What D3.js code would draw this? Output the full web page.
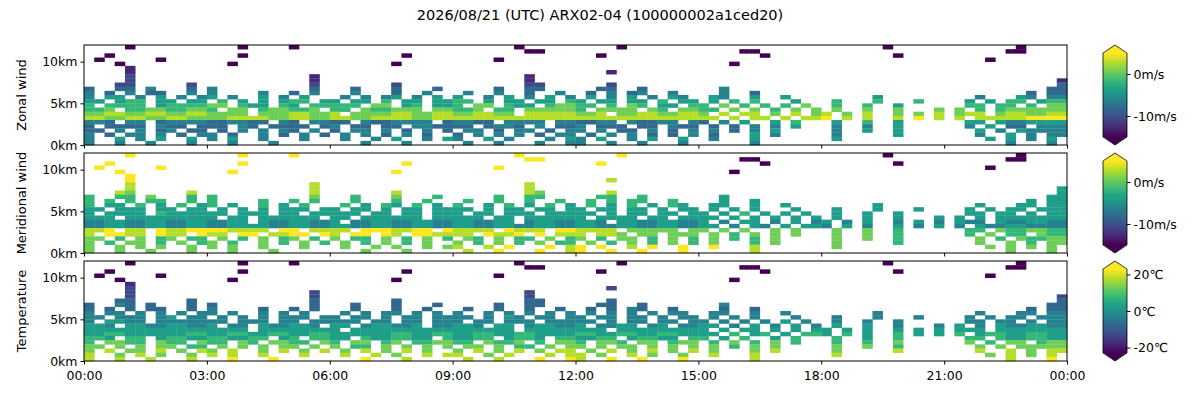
<!DOCTYPE html>
<html><head><meta charset="utf-8">
<script src="https://cdn.jsdelivr.net/npm/d3@7"></script>
<style>body{margin:0;background:#fff}text{font-family:"DejaVu Sans",sans-serif}</style>
</head><body><div id="chart"></div>
<script>
// shared observation mask: 15-min columns in 3-hour chunks, 0.5km rows, top row = 11.5-12km
var maskChunks = [
["....#.......","...#....#...","............","......#.....","....#.......","............","......#.....",".......#...."],
["............","............","............",".......##...","............","....##......","............","......##...."],
["..#.........","...#........",".......#....","............","..#.........","......#.....",".......#....","............"],
[".#.....#....","............","............","....#.......","............","............","............","....#......."],
["...#........","..#.........","......#.....","............","............","...#........","............","............"],
["....#.......","............","............","............","............","............","............","............"],
["....#.......","............","............","............","...#........","............","............","............"],
["....#.......","..........#.","............",".......#....","............","............","............","............"],
["....#.......","..........#.","............",".......#....","............","............","............","...........#"],
["...##.....#.","..........#.","......#.....",".......##...","...#........","............","............","...........#"],
["#..##.#...#.","#.........#.","..#...#...#.","....#..##...","..##..#.....","..#.........","............","..........##"],
["#.#.#.##..#.","#....#..#.#.","..#...#..#..",".#..#..#..#.",".#.#.##..#..","..#..#......","............","........#.##"],
["#.##.#.#.#.#","#.#..#.#.#..",".#.#.##.#.#.","#..#.#.#.#.#",".#.#.#.#.##.",".##..#..#...",".....#......","...#...##.##"],
["##.###.##.##",".#.#.#.###.#","#.##.#.##.##","##.#.##.##.#","#.##.##.#.##",".#.#.#...#..",".#...#...#..","..#.#.##.###"],
["#.####.#####","##.###.##.##","###.##.##.##","#.##.###.###","##.#.##.##.#","#.#.#.#.#.#.",".#..#..#....","..##.##.#.##"],
["###.########","#.##.######.","##.######.##","###.##.#####","#.####.##.##","##.#.#.#.#.#",".#..#..#...#",".#.#.#######"],
["############","####.#######","#.##########","######.#####","###.########","#.#.##.#.#.#","#.#.#..#.#.#",".###.#######"],
["############","############","############","############","############","##.#.##.#.##","#.#.#..#.#.#",".#.#########"],
["###.##.#####","######.##.##","##.#######.#","####.####.##","####.#####.#","#.#.#..#.#..",".#..#..#....","..##.#######"],
["#.####.###.#","##.##.####.#","#.##.##.####","##.####.#.##","#.###.##.###",".#.#.#.#.#..",".#..#..#....","..#.#.##.###"],
["##.#.#.##.##",".#.#.#.##.#.","#.##.#.#.#.#",".##.#.##.#.#","#.#.##.#.#.#",".#.#.#.#....",".#..#..#....","...#.#.#####"],
["#.#.##.#.#.#","#.#..#.#.#.#",".#.#.#.#.#..","#.#.#.#.#.##",".#.#.#.#.#.#",".#...#.#....",".#.....#....","...#..#.#.##"],
["#..#.#.#..#.","#.#..#...#..",".#..#.#..#.#","#..#.#...#.#","#.#..#.#..#.",".#...#......",".#..........","....#.#.#.#."],
["#..#..#...#.","..#...#.....","...#...#....",".#..#...#..#","#..#..#...#.",".....#......","............","......#...#."]
];
// values per 30-min column, digit 0-9 along each colour scale
var zonal = [
"000000000000000000000000000000000000000000000000",
"000000000000000000000000000000000000000000000000",
"000000000000000000000000000000000000000000000000",
"000000000000000000000000000000000000000000000000",
"000000000000000000000000000000000000000000000000",
"111111112111111111111111111111111111111111111111",
"111211111111111111111111111121111111111111111111",
"112111111111111111211111111111111111111111111111",
"122121111111112111111111111111111111111111111111",
"222232223222232222333222222222233222222222222333",
"333433434343334343443333434334343333444433433433",
"434344434434344343444344343444343343444444443433",
"454544545455444545545454545454545454545554544544",
"556555655565556555655556555565566555656565555656",
"666566765656667565676567667656676667666566666667",
"676767676767676777676777677767677677767767766777",
"787878777787877878787888787878788787878778787878",
"878787788787878878888888888888888888988898888899",
"434344343434343443434444344344345565556565655455",
"333433343333433343334343433343334455454545445344",
"344343344434344343443434443434434545445545454544",
"434434434343443434344434344334345445454545444544",
"454545454545454545454545454545445555555555555545",
"444444444444444444444444444444444455545454545454"
];
var meridional = [
"999999999999999999999999999999900000000000000000",
"999999999999999999999999999999900000000000000000",
"999999999999999999999999999999900000000000000000",
"999999999999999999999999999999900000000000000000",
"999999999999999999999999999999900000000000000000",
"899898989898988898989899898888766655555555555555",
"899898888888888898888888888777666655555555555555",
"898888888888888888888888888777666655555555555555",
"888888888888888888888888888777666655555555555555",
"787878787878787878787878787766666555555555555555",
"666766676667666766676666666666555555555555555555",
"666666666666666666666666666666555555555555555555",
"656565656565656565656565656565555555555555555555",
"555555555555555555555555555555555555555555555555",
"555655555555555555555555555555556555555555555555",
"555555555555555555555555555555555555555555555555",
"454545455454545454545454545454545454545454545454",
"454545455454545454545454545454545455454545454544",
"898989988998899899889889887777777777767676767676",
"898989899899899898898998887777767777767676767676",
"767676767676767676767676767676766766767676676767",
"767676767676767676767676767676766766767676676767",
"777777777777777777889898998989998888777777777777",
"777777777777777777889898998989998888777777777777"
];
var temperature = [
"000000000000000000000000000000000000000000000000",
"000000000000000000000000000000000000000000000000",
"000000000000000000000000000000000000000000000000",
"000000000000000000000000000000000000000000000000",
"000000000000000000000000000000000000000000000000",
"111111111111111111111111111111111111111111111111",
"222222222222222222222222222222222222222222222222",
"222322222222222222222222222232222222222222222222",
"222222222222222222222222222222222222222222222222",
"333333333343333333333333334333333334333333333333",
"343333333333333343333333333333343333333333333333",
"333333433333333333333333334333333334333333433333",
"444444444444444444444444444444444444444444444444",
"444454444444444444445444444444444444444444444444",
"454444444444444444444444444444444454444444444444",
"545454545454545454545454545454545454545454545454",
"555555555555555555555555555555555555555555555555",
"565556565656555656565655656565565656565655656565",
"656565656566565656565656565656656565665656566565",
"676767676767676767676767676767676767676767676767",
"777776777777767777777677777777767777777677777777",
"787878787878787878787878787878787878787878787878",
"878787888787878788878788878787888787878787887878",
"889898998988899889898999899989998988898988898889"
];
var hourTicks = [0, 3, 6, 9, 12, 15, 18, 21, 24];
var kmTicks = [0, 5, 10];

var mask = maskChunks.map(function(r) { return r.join(""); });

var panels = [
  {label: "Zonal wind", grid: zonal, domain: [-15, 5], ticks: [0, -10], unit: "m/s"},
  {label: "Meridional wind", grid: meridional, domain: [-15, 5], ticks: [0, -10], unit: "m/s"},
  {label: "Temperature", grid: temperature, domain: [-23, 23], ticks: [20, 0, -20], unit: "\u2103"}
];

var svg = d3.select("#chart").append("svg").attr("width", 1200).attr("height", 400);
svg.append("text").attr("x", 600).attr("y", 20).attr("text-anchor", "middle")
  .attr("font-size", 14.5).text("2026/08/21 (UTC) ARX02-04 (100000002a1ced20)");

var defs = svg.append("defs");
var x = d3.scaleLinear().domain([0, 24]).range([84, 1067]);
var tops = [45, 153, 261], ph = 100;

panels.forEach(function(p, pi) {
  var top = tops[pi];
  var y = d3.scaleLinear().domain([0, 12]).range([top + ph, top]);
  var col = d3.scaleSequential(d3.interpolateViridis).domain([0, 9]);
  var cells = [];
  mask.forEach(function(row, ri) {
    var alt = (23 - ri) * 0.5;
    for (var c = 0; c < 96; c++) {
      if (row[c] === "#") cells.push({t: c * 0.25, alt: alt, v: +p.grid[ri][Math.floor(c / 2)]});
    }
  });
  svg.append("g").selectAll("rect").data(cells).enter().append("rect")
    .attr("x", function(d) { return x(d.t); })
    .attr("y", function(d) { return y(d.alt + 0.5); })
    .attr("width", x(0.25) - x(0) + 0.3)
    .attr("height", y(0) - y(0.5) + 0.3)
    .attr("fill", function(d) { return col(d.v); });
  svg.append("rect").attr("x", 84).attr("y", top).attr("width", 983).attr("height", ph)
    .attr("fill", "none").attr("stroke", "#000");
  var ya = svg.append("g").attr("transform", "translate(84,0)")
    .call(d3.axisLeft(y).tickValues(kmTicks).tickSize(3.5).tickFormat(function(d) { return d + "km"; }));
  ya.select(".domain").remove();
  ya.selectAll("text").attr("font-size", 12.5).attr("font-family", "DejaVu Sans");
  var xa = svg.append("g").attr("transform", "translate(0," + (top + ph) + ")")
    .call(d3.axisBottom(x).tickValues(hourTicks).tickSize(3.5)
      .tickFormat(function(d) { return pi === 2 ? d3.format("02d")(d % 24) + ":00" : ""; }));
  xa.select(".domain").remove();
  xa.selectAll("text").attr("font-size", 12.5).attr("font-family", "DejaVu Sans").attr("dy", "1em");
  svg.append("text").attr("transform", "translate(26," + (top + ph / 2) + ") rotate(-90)")
    .attr("text-anchor", "middle").attr("font-size", 13).text(p.label);

  // colorbar with extended ends
  var cx = 1103, cw = 24, tri = 8;
  var cb = d3.scaleLinear().domain(p.domain).range([top + ph - tri, top + tri]);
  var vcol = d3.scaleSequential(d3.interpolateViridis).domain(p.domain);
  var grad = defs.append("linearGradient").attr("id", "cb" + pi)
    .attr("x1", 0).attr("y1", 1).attr("x2", 0).attr("y2", 0);
  d3.range(0, 1.001, 0.1).forEach(function(t) {
    grad.append("stop").attr("offset", t).attr("stop-color", d3.interpolateViridis(t));
  });
  svg.append("rect").attr("x", cx).attr("y", cb(p.domain[1])).attr("width", cw)
    .attr("height", cb(p.domain[0]) - cb(p.domain[1])).attr("fill", "url(#cb" + pi + ")");
  svg.append("path").attr("d", "M" + cx + "," + (top + tri + 0.5) + "L" + (cx + cw / 2) + "," + top + "L" + (cx + cw) + "," + (top + tri + 0.5) + "Z")
    .attr("fill", vcol(p.domain[1]));
  svg.append("path").attr("d", "M" + cx + "," + (top + ph - tri - 0.5) + "L" + (cx + cw / 2) + "," + (top + ph) + "L" + (cx + cw) + "," + (top + ph - tri - 0.5) + "Z")
    .attr("fill", vcol(p.domain[0]));
  svg.append("path").attr("fill", "none").attr("stroke", "#000").attr("stroke-width", 0.8)
    .attr("d", "M" + cx + "," + (top + tri) + "L" + (cx + cw / 2) + "," + top + "L" + (cx + cw) + "," + (top + tri) +
      "L" + (cx + cw) + "," + (top + ph - tri) + "L" + (cx + cw / 2) + "," + (top + ph) + "L" + cx + "," + (top + ph - tri) + "Z");
  var ca = svg.append("g").attr("transform", "translate(" + (cx + cw) + ",0)")
    .call(d3.axisRight(cb).tickValues(p.ticks).tickSize(3.5).tickFormat(function(d) { return d + p.unit; }));
  ca.select(".domain").remove();
  ca.selectAll("text").attr("font-size", 12.5).attr("font-family", "DejaVu Sans");
});
</script></body></html>
